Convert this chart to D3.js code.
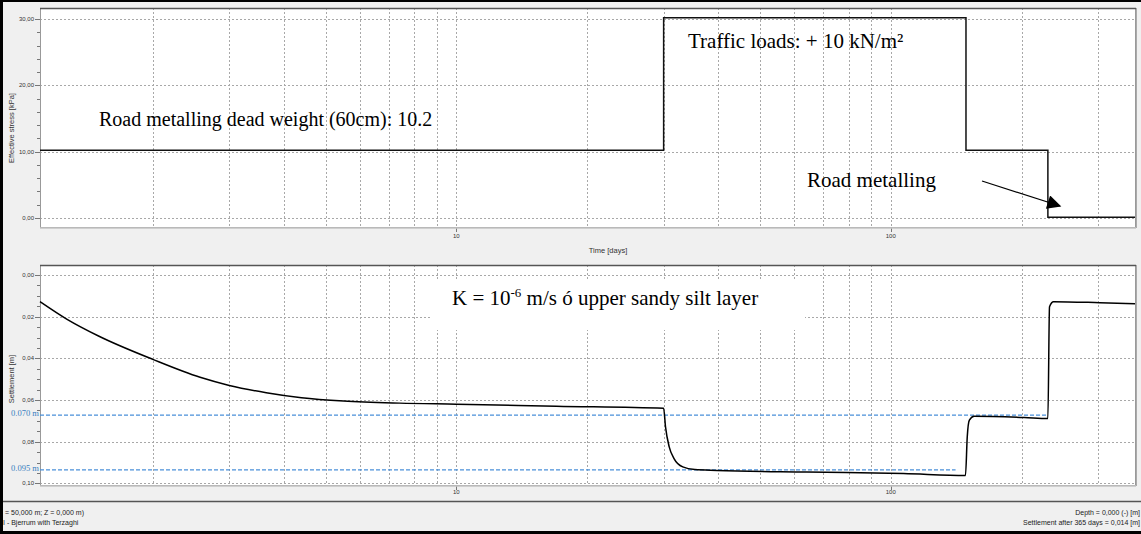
<!DOCTYPE html>
<meta charset="utf-8">
<style>
body { margin: 0; background: #f0f0f0; }
svg { display: block; }
text { font-family: "Liberation Sans", Arial, sans-serif; }
.grid line { stroke: #a8a8a8; stroke-width: 1px; stroke-dasharray: 2,2; shape-rendering: crispEdges; }
.ticklbl { font-size: 6px; fill: #333; }
.axtitle { font-size: 7.5px; fill: #333; }
.status { font-size: 7px; fill: #222; }
.note { font-family: "Liberation Serif", "Times New Roman", serif; fill: #000; }
.ref { stroke: #4a90d9; stroke-width: 1.2px; stroke-dasharray: 4,2; fill: none; }
.reflbl { font-family: "Liberation Serif", "Times New Roman", serif; font-size: 8.5px; fill: #3a7fc1; }
</style>
<svg width="1141" height="534"></svg>
<script src="https://d3js.org/d3.v7.min.js"></script>
<script>

// effective stress at the surface, step function (kPa)
var stressDays = [1.1, 30, 149, 230, 365];
var stressKPa  = [10.2, 30.2, 10.2, 0.1, 0.1];

// settlement curve (m)
var settleDays = [1.1, 1.27, 1.5, 2.0, 2.57, 3.0, 3.65, 4.4, 5.5, 7.4, 10, 17, 30,
                  30.3, 30.9, 31.7, 33.2, 35.4, 39.8, 64, 107, 148.6,
                  150, 151.7, 155.5, 203, 230, 232, 237, 303, 365];
var settleM    = [0.0128, 0.0213, 0.0293, 0.0405, 0.0491, 0.053, 0.0565, 0.0589, 0.0605, 0.0615, 0.062, 0.063, 0.064,
                  0.0729, 0.0825, 0.0881, 0.0921, 0.0934, 0.0938, 0.0946, 0.0953, 0.0962,
                  0.0777, 0.0697, 0.0678, 0.0684, 0.0689, 0.0152, 0.0128, 0.0133, 0.0138];

// dashed reference levels drawn on the settlement plot
var refValues = [0.0673, 0.0935];
var refLabels = ["0.070 m", "0.095 m"];
var refEndDays = [230, 141];

var stressTicks = [0, 10, 20, 30];
var settleTicks = [0, 0.02, 0.04, 0.06, 0.08, 0.10];
var dayTicks = [10, 100];
var gridDays = [2, 3, 4, 5, 6, 7, 8, 9, 10, 20, 30, 40, 50, 60, 70, 80, 90, 100, 200, 300];

var svg = d3.select("svg");
var comma = function(v) { return d3.format(".2f")(v).replace(".", ","); };

var x = d3.scaleLog().domain([1.1, 365]).range([40, 1135]);
var yStress = d3.scaleLinear().domain([-1.36, 31.66]).range([227, 8]);
var ySettle = d3.scaleLinear().domain([-0.0048, 0.1008]).range([265, 485]);

function panel(y, ticks, minorStep, title, titleY, lblOff) {
  var top = Math.min(y.range()[0], y.range()[1]);
  var bot = Math.max(y.range()[0], y.range()[1]);
  var g = svg.append("g");
  g.append("rect").attr("x", 40).attr("y", top).attr("width", 1095).attr("height", bot - top)
      .attr("fill", "#fff");

  var grid = g.append("g").attr("class", "grid");
  grid.selectAll(".gx").data(gridDays).enter().append("line")
      .attr("x1", function(d) { return Math.round(x(d)) + 0.5; })
      .attr("x2", function(d) { return Math.round(x(d)) + 0.5; })
      .attr("y1", top).attr("y2", bot);
  grid.selectAll(".gy").data(ticks).enter().append("line")
      .attr("x1", 40).attr("x2", 1135)
      .attr("y1", function(d) { return Math.round(y(d)) + 0.5; })
      .attr("y2", function(d) { return Math.round(y(d)) + 0.5; });

  // left axis
  var minors = d3.range(ticks[0], ticks[ticks.length - 1] + minorStep / 2, minorStep);
  g.selectAll(".mt").data(minors).enter().append("line")
      .attr("x1", 37).attr("x2", 40)
      .attr("y1", function(d) { return Math.round(y(d)) + 0.5; })
      .attr("y2", function(d) { return Math.round(y(d)) + 0.5; })
      .attr("stroke", "#777");
  g.selectAll(".Mt").data(ticks).enter().append("line")
      .attr("x1", 35).attr("x2", 40)
      .attr("y1", function(d) { return Math.round(y(d)) + 0.5; })
      .attr("y2", function(d) { return Math.round(y(d)) + 0.5; })
      .attr("stroke", "#777");
  g.selectAll(".tl").data(ticks).enter().append("text")
      .attr("class", "ticklbl")
      .attr("x", 34).attr("y", function(d) { return y(d) + 2; })
      .attr("text-anchor", "end")
      .text(comma);
  g.append("text").attr("class", "axtitle")
      .attr("transform", "translate(14," + titleY + ") rotate(-90)")
      .attr("text-anchor", "middle")
      .text(title);

  // bottom ticks
  g.selectAll(".xt").data(dayTicks).enter().append("line")
      .attr("x1", function(d) { return Math.round(x(d)) + 0.5; })
      .attr("x2", function(d) { return Math.round(x(d)) + 0.5; })
      .attr("y1", bot).attr("y2", bot + 5)
      .attr("stroke", "#777");
  g.selectAll(".xl").data(dayTicks).enter().append("text")
      .attr("class", "ticklbl")
      .attr("x", function(d) { return x(d); }).attr("y", bot + lblOff)
      .attr("text-anchor", "middle")
      .text(function(d) { return d; });

  // frame
  g.append("rect").attr("x", 40.5).attr("y", top + 0.5).attr("width", 1095).attr("height", bot - top)
      .attr("fill", "none").attr("stroke", "#999");
  g.append("line").attr("x1", 40).attr("x2", 1136).attr("y1", top + 0.5).attr("y2", top + 0.5)
      .attr("stroke", "#555").attr("stroke-width", 1.5);
  g.append("line").attr("x1", 40).attr("x2", 1136).attr("y1", bot + 1).attr("y2", bot + 1)
      .attr("stroke", "#c4c4c4").attr("stroke-width", 1.5);
  g.append("line").attr("x1", 1136.5).attr("x2", 1136.5).attr("y1", top).attr("y2", bot + 1)
      .attr("stroke", "#aaa");
  return g;
}

// ---- upper panel: effective stress
var gTop = panel(yStress, stressTicks, 2, "Effective stress [kPa]", 128, 11);
svg.append("text").attr("class", "axtitle").attr("x", 608).attr("y", 253)
    .attr("text-anchor", "middle").text("Time [days]");

var stressPts = stressDays.map(function(d, i) { return [d, stressKPa[i]]; });
gTop.append("path")
    .datum(stressPts)
    .attr("fill", "none").attr("stroke", "#111").attr("stroke-width", 1.5)
    .attr("d", d3.line().curve(d3.curveStepAfter)
        .x(function(d) { return x(d[0]); })
        .y(function(d) { return yStress(d[1]); }));

gTop.append("text").attr("class", "note").attr("x", 99).attr("y", 126)
    .style("font-size", "20px").text("Road metalling dead weight (60cm): 10.2");
gTop.append("text").attr("class", "note").attr("x", 688).attr("y", 48)
    .style("font-size", "21px").text("Traffic loads: + 10 kN/m²");
gTop.append("text").attr("class", "note").attr("x", 807).attr("y", 187)
    .style("font-size", "21px").text("Road metalling");

// arrow pointing at the metalling removal
svg.append("defs").append("marker")
    .attr("id", "head").attr("viewBox", "0 0 10 10")
    .attr("refX", 9).attr("refY", 5)
    .attr("markerWidth", 18).attr("markerHeight", 14)
    .attr("markerUnits", "userSpaceOnUse")
    .attr("orient", "auto")
  .append("path").attr("d", "M0,0 L10,5 L0,10 z").attr("fill", "#000");
gTop.append("line")
    .attr("x1", 982).attr("y1", 181).attr("x2", 1060).attr("y2", 206)
    .attr("stroke", "#000").attr("stroke-width", 1.2)
    .attr("marker-end", "url(#head)");

// ---- lower panel: settlement
var gBot = panel(ySettle, settleTicks, 0.005, "Settlement [m]", 379, 9);

// white text box for the permeability note
gBot.append("rect").attr("x", 432).attr("y", 281).attr("width", 373).attr("height", 49)
    .attr("fill", "#fff");
var kText = gBot.append("text").attr("class", "note").attr("x", 452).attr("y", 305)
    .style("font-size", "21px");
kText.append("tspan").text("K = 10");
kText.append("tspan").attr("dy", -8).style("font-size", "13px").text("-6");
kText.append("tspan").attr("dy", 8).text(" m/s ó upper sandy silt layer");

gBot.selectAll(".refl").data(refValues).enter().append("line")
    .attr("class", "ref")
    .attr("x1", 40)
    .attr("x2", function(d, i) { return x(refEndDays[i]); })
    .attr("y1", function(d) { return ySettle(d); })
    .attr("y2", function(d) { return ySettle(d); });
gBot.selectAll(".refLbl").data(refValues).enter().append("text")
    .attr("class", "reflbl")
    .attr("x", 11).attr("y", function(d) { return ySettle(d) + 1; })
    .text(function(d, i) { return refLabels[i]; });

var settlePts = settleDays.map(function(d, i) { return [d, settleM[i]]; });
gBot.append("path")
    .datum(settlePts)
    .attr("fill", "none").attr("stroke", "#000").attr("stroke-width", 1.5)
    .attr("d", d3.line().curve(d3.curveMonotoneX)
        .x(function(d) { return x(d[0]); })
        .y(function(d) { return ySettle(d[1]); }));

// ---- status bar
svg.append("line").attr("x1", 0).attr("x2", 1141).attr("y1", 501.5).attr("y2", 501.5)
    .attr("stroke", "#555").attr("stroke-width", 1.5);
svg.append("text").attr("class", "status").attr("x", 5).attr("y", 515).text("= 50,000 m; Z = 0,000 m)");
svg.append("text").attr("class", "status").attr("x", 3).attr("y", 525).text("I - Bjerrum with Terzaghi");
svg.append("text").attr("class", "status").attr("x", 1140).attr("y", 515).attr("text-anchor", "end")
    .text("Depth = 0,000 (-) [m]");
svg.append("text").attr("class", "status").attr("x", 1140).attr("y", 525).attr("text-anchor", "end")
    .text("Settlement after 365 days = 0,014 [m]");

// outer window border
svg.append("rect").attr("x", 0).attr("y", 0).attr("width", 3).attr("height", 534).attr("fill", "#000");
svg.append("rect").attr("x", 0).attr("y", 0).attr("width", 1141).attr("height", 2).attr("fill", "#000");
svg.append("rect").attr("x", 0).attr("y", 531).attr("width", 1141).attr("height", 3).attr("fill", "#000");

</script>
